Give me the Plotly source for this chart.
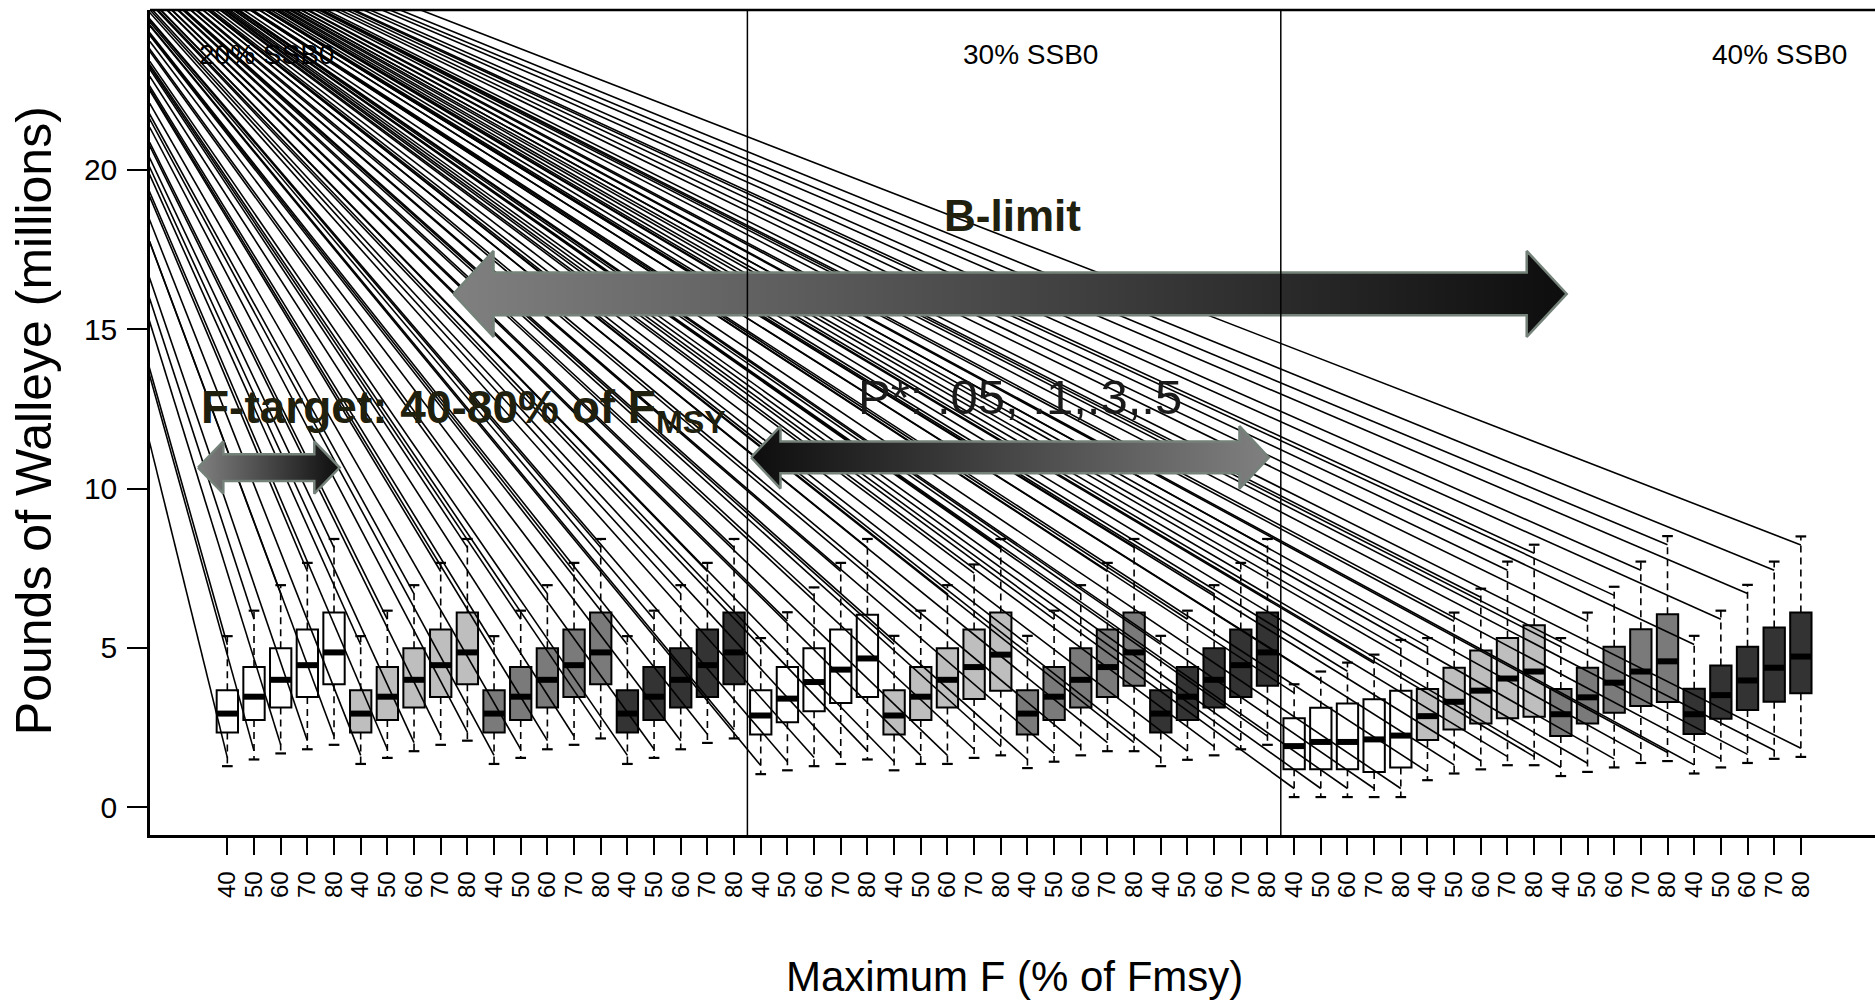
import plotly.graph_objects as go

# ---------------- data ----------------
F_LABELS = [40, 50, 60, 70, 80]            # maximum F (% of Fmsy) within each P* group
P_STAR = [0.05, 0.1, 0.3, 0.5]             # P* groups (box fill shades)
SSB_PANELS = ["20% SSB0", "30% SSB0", "40% SSB0"]

# five-number summaries for the 60 boxes (panel -> P* group -> F), millions of lbs
LOWER = [1.29, 1.50, 1.69, 1.82, 1.96,  1.36, 1.55, 1.76, 1.96, 2.09,
         1.36, 1.55, 1.82, 1.96, 2.16,  1.36, 1.55, 1.82, 2.02, 2.16,
         1.04, 1.16, 1.29, 1.36, 1.50,  1.16, 1.36, 1.36, 1.55, 1.63,
         1.23, 1.43, 1.63, 1.76, 1.76,  1.29, 1.49, 1.63, 1.82, 1.96,
         0.32, 0.32, 0.32, 0.32, 0.32,  0.85, 1.06, 1.19, 1.32, 1.32,
         0.98, 1.11, 1.25, 1.39, 1.45,  1.06, 1.25, 1.39, 1.52, 1.58]
Q1 = [2.35, 2.74, 3.13, 3.46, 3.86,  2.35, 2.74, 3.13, 3.46, 3.86,
      2.35, 2.74, 3.13, 3.46, 3.86,  2.35, 2.74, 3.13, 3.46, 3.86,
      2.28, 2.67, 3.01, 3.27, 3.46,  2.28, 2.74, 3.13, 3.40, 3.66,
      2.28, 2.74, 3.13, 3.46, 3.81,  2.35, 2.74, 3.13, 3.46, 3.81,
      1.19, 1.19, 1.19, 1.11, 1.25,  2.11, 2.44, 2.63, 2.79, 2.84,
      2.24, 2.63, 2.97, 3.18, 3.30,  2.30, 2.78, 3.05, 3.31, 3.58]
MEDIAN = [2.94, 3.47, 4.00, 4.46, 4.86,  2.94, 3.47, 4.00, 4.46, 4.86,
          2.94, 3.47, 4.00, 4.46, 4.86,  2.94, 3.47, 4.00, 4.46, 4.86,
          2.88, 3.41, 3.93, 4.32, 4.67,  2.88, 3.47, 4.00, 4.40, 4.79,
          2.94, 3.47, 4.00, 4.40, 4.86,  2.94, 3.47, 4.00, 4.46, 4.86,
          1.92, 2.05, 2.05, 2.13, 2.25,  2.86, 3.31, 3.66, 4.04, 4.26,
          2.92, 3.45, 3.91, 4.26, 4.58,  2.92, 3.52, 3.98, 4.38, 4.73]
Q3 = [3.67, 4.40, 4.99, 5.58, 6.11,  3.67, 4.40, 4.99, 5.58, 6.11,
      3.67, 4.40, 4.99, 5.58, 6.11,  3.67, 4.40, 4.99, 5.58, 6.11,
      3.67, 4.40, 4.99, 5.58, 6.04,  3.67, 4.40, 4.99, 5.58, 6.11,
      3.67, 4.40, 4.99, 5.58, 6.11,  3.67, 4.40, 4.99, 5.58, 6.11,
      2.79, 3.12, 3.26, 3.39, 3.66,  3.71, 4.38, 4.92, 5.31, 5.71,
      3.71, 4.38, 5.04, 5.59, 6.06,  3.72, 4.45, 5.04, 5.64, 6.11]
UPPER = [5.37, 6.17, 6.97, 7.67, 8.42,  5.37, 6.17, 6.97, 7.67, 8.42,
         5.37, 6.17, 6.97, 7.67, 8.42,  5.37, 6.17, 6.97, 7.67, 8.42,
         5.31, 6.12, 6.90, 7.67, 8.42,  5.38, 6.17, 6.97, 7.62, 8.42,
         5.38, 6.17, 6.97, 7.67, 8.42,  5.38, 6.17, 6.97, 7.67, 8.42,
         3.86, 4.26, 4.54, 4.79, 5.25,  5.31, 6.11, 6.86, 7.71, 8.24,
         5.31, 6.11, 6.92, 7.71, 8.51,  5.38, 6.17, 6.98, 7.71, 8.50]

# ---------------- styling ----------------
GROUP_FILLS = ["#ffffff", "#bebebe", "#7a7a7a", "#333333"]
SANS = "Liberation Sans, Arial, sans-serif"
TEXT_DARK = "#20200f"
BOX_W = 0.8
CAP_W = 0.4
STRAY_ORIGIN = (-8.41, 30.1)   # common origin of the stray whisker strokes (off-plot)
STRAY_INSET = 0.27

n_f = len(F_LABELS)
n_g = len(P_STAR)
n = len(SSB_PANELS) * n_g * n_f
pos = list(range(n))
fills = [GROUP_FILLS[(i // n_f) % n_g] for i in pos]
tick_text = [str(f) for f in F_LABELS] * (len(SSB_PANELS) * n_g)

fig = go.Figure()

# boxes (Q1..Q3)
fig.add_trace(go.Bar(
    x=pos, y=[q3 - q1 for q1, q3 in zip(Q1, Q3)], base=Q1, width=BOX_W,
    marker=dict(color=fills, line=dict(color="black", width=2)),
    hoverinfo="skip", showlegend=False))

# whiskers (dashed)
wx, wy = [], []
for i in pos:
    wx += [i, i, None, i, i, None]
    wy += [Q3[i], UPPER[i], None, Q1[i], LOWER[i], None]
fig.add_trace(go.Scatter(x=wx, y=wy, mode="lines",
                         line=dict(color="black", width=1.6, dash="7px,5px"),
                         hoverinfo="skip", showlegend=False))

# staples
cx, cy = [], []
for i in pos:
    cx += [i - CAP_W / 2, i + CAP_W / 2, None, i - CAP_W / 2, i + CAP_W / 2, None]
    cy += [UPPER[i], UPPER[i], None, LOWER[i], LOWER[i], None]
fig.add_trace(go.Scatter(x=cx, y=cy, mode="lines",
                         line=dict(color="black", width=2.2),
                         hoverinfo="skip", showlegend=False))

# medians
mx, my = [], []
for i in pos:
    mx += [i - BOX_W / 2, i + BOX_W / 2, None]
    my += [MEDIAN[i], MEDIAN[i], None]
fig.add_trace(go.Scatter(x=mx, y=my, mode="lines",
                         line=dict(color="black", width=6),
                         hoverinfo="skip", showlegend=False))

# stray strokes running from a common off-plot origin to each whisker end
sx, sy = [], []
for i in pos:
    for end in (UPPER[i] - STRAY_INSET, LOWER[i] + STRAY_INSET):
        sx += [STRAY_ORIGIN[0], i, None]
        sy += [STRAY_ORIGIN[1], end, None]
fig.add_trace(go.Scatter(x=sx, y=sy, mode="lines",
                         line=dict(color="black", width=1.6),
                         hoverinfo="skip", showlegend=False))


# gradient double arrows (overlay annotations)
def arrow(x0, x1, yc, shaft, head, head_len, left_col, right_col):
    xs = [x0, x0 + head_len, x0 + head_len, x1 - head_len, x1 - head_len, x1,
          x1 - head_len, x1 - head_len, x0 + head_len, x0 + head_len, x0]
    ys = [yc, yc + head, yc + shaft, yc + shaft, yc + head, yc,
          yc - head, yc - shaft, yc - shaft, yc - head, yc]
    fig.add_trace(go.Scatter(
        x=xs, y=ys, mode="lines", fill="toself",
        fillgradient=dict(type="horizontal",
                          colorscale=[[0, left_col], [1, right_col]]),
        line=dict(color="#74827a", width=2.5),
        hoverinfo="skip", showlegend=False))


arrow(8.48, 50.22, 16.11, 0.67, 1.35, 1.5, "#808080", "#0d0d0d")   # B-limit
arrow(-1.10, 4.21, 10.66, 0.42, 0.82, 0.95, "#808080", "#0d0d0d")  # F-target
arrow(19.64, 39.05, 10.98, 0.50, 0.98, 1.1, "#0d0d0d", "#808080")  # P*

annotations = []
panel_x = [1.45, 30.13, 58.2]
for label, px in zip(SSB_PANELS, panel_x):
    annotations.append(dict(x=px, y=23.63, text=label, showarrow=False,
                            font=dict(family=SANS, size=28, color="black"),
                            xanchor="center", yanchor="middle"))
annotations += [
    dict(x=29.43, y=18.58, text="<b>B-limit</b>", showarrow=False,
         font=dict(family=SANS, size=44, color=TEXT_DARK)),
    dict(x=-1.08, y=12.45, text="<b>F-target: 40-80% of F<sub>MSY</sub></b>",
         showarrow=False, xanchor="left", yanchor="middle",
         font=dict(family=SANS, size=46, color=TEXT_DARK)),
    dict(x=29.72, y=12.87, text="P*: .05, .1,.3,.5", showarrow=False,
         font=dict(family=SANS, size=49, color="#1a1a1a")),
    dict(x=29.5, xref="x", y=-0.172, yref="paper", text="Maximum F (% of Fmsy)",
         showarrow=False, xanchor="center", yanchor="middle",
         font=dict(family=SANS, size=42, color="black")),
    dict(x=-0.0672, xref="paper", y=12.12, yref="y",
         text="Pounds of Walleye (millions)", textangle=-90,
         showarrow=False, xanchor="center", yanchor="middle",
         font=dict(family=SANS, size=50, color="black")),
]

shapes = [
    dict(type="line", xref="x", yref="paper", x0=n_f * n_g - 0.5, x1=n_f * n_g - 0.5,
         y0=0, y1=1, line=dict(color="black", width=1.5)),
    dict(type="line", xref="x", yref="paper", x0=2 * n_f * n_g - 0.5, x1=2 * n_f * n_g - 0.5,
         y0=0, y1=1, line=dict(color="black", width=1.5)),
    dict(type="line", xref="paper", yref="paper", x0=0, x1=1, y0=1, y1=1,
         line=dict(color="black", width=2.5)),
]

fig.update_layout(
    width=1875, height=1002,
    margin=dict(l=150, r=0, t=10, b=167, pad=0),
    paper_bgcolor="white", plot_bgcolor="white",
    barmode="overlay", showlegend=False,
    annotations=annotations, shapes=shapes,
    xaxis=dict(range=[-2.90, 61.78], tickmode="array", tickvals=pos, ticktext=tick_text,
               tickangle=-90, ticks="outside", ticklen=17, tickwidth=2, tickcolor="black",
               showline=True, linecolor="black", linewidth=2.5, showgrid=False,
               zeroline=False, automargin=False, ticklabelstandoff=7,
               tickfont=dict(family=SANS, size=24, color="black")),
    yaxis=dict(range=[-0.87, 25.02], tickmode="array", tickvals=[0, 5, 10, 15, 20],
               ticks="outside", ticklen=20, tickwidth=2, tickcolor="black",
               showline=True, linecolor="black", linewidth=2.5, showgrid=False,
               zeroline=False, automargin=False, ticklabelstandoff=4,
               tickfont=dict(family=SANS, size=30, color="black")),
)

fig.write_html("out.html")
